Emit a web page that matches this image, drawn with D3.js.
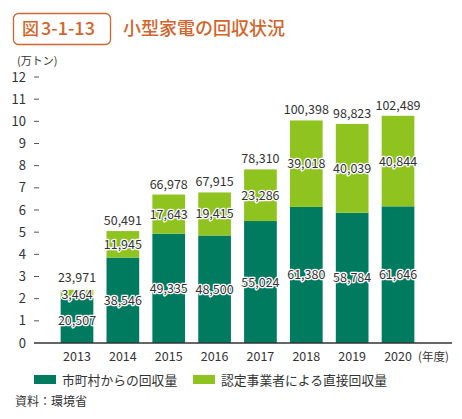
<!DOCTYPE html>
<html><head><meta charset="utf-8">
<script src="https://cdn.jsdelivr.net/npm/d3@7"></script>
<style>
body{margin:0;background:#fff;}
text{font-family:"Noto Sans CJK JP","Noto Sans",sans-serif;}
</style></head><body>
<svg id="c" width="462" height="419"></svg>
<script>
const years = ["2013","2014","2015","2016","2017","2018","2019","2020"];
const municipal = [20507,38546,49335,48500,55024,61380,58784,61646];
const direct = [3464,11945,17643,19415,23286,39018,40039,40844];
const totals = [23971,50491,66978,67915,78310,100398,98823,102489];
const yTicks = [0,1,2,3,4,5,6,7,8,9,10,11,12];
const seriesNames = ["市町村からの回収量","認定事業者による直接回収量"];
const colors = ["#007b5f","#8fc31f"];
const orange = "#d3642b";

const svg = d3.select("#c");
const fmt = d3.format(",");

// title
svg.append("rect").attr("x",13.5).attr("y",13.5).attr("width",97).attr("height",31).attr("rx",5)
  .attr("fill","none").attr("stroke",orange).attr("stroke-width",1.3);
svg.append("text").attr("x",22).attr("y",35).attr("fill",orange)
  .attr("font-size",17).attr("font-weight",500).text("図");
svg.append("text").attr("x",41).attr("y",35).attr("fill",orange)
  .attr("font-size",18).attr("font-weight",500).text("3-1-13");
svg.append("text").attr("x",123).attr("y",35).attr("fill",orange)
  .attr("font-size",18).attr("font-weight",500).text("小型家電の回収状況");

const x = d3.scaleBand().domain(years).range([54.07,420.95]).paddingInner(0.287).paddingOuter(0.1435);
const y = d3.scaleLinear().domain([0,12]).range([343,77]);

// unit
svg.append("text").attr("x",17).attr("y",65).attr("font-size",11).attr("fill","#333").text("(万トン)");

// y ticks
const yg = svg.append("g");
yTicks.forEach(t=>{
  yg.append("text").attr("x",26).attr("y",y(t)+4.5).attr("text-anchor","end").attr("font-size",13).attr("fill","#333").text(t);
  if(t>0) yg.append("line").attr("x1",34).attr("x2",39).attr("y1",y(t)).attr("y2",y(t)).attr("stroke","#555").attr("stroke-width",1);
});

// bars
const g = svg.append("g");
years.forEach((yr,i)=>{
  const m = municipal[i]/10000, d = direct[i]/10000;
  g.append("rect").attr("x",x(yr)).attr("width",x.bandwidth()).attr("y",y(m)).attr("height",y(0)-y(m)).attr("fill",colors[0]);
  g.append("rect").attr("x",x(yr)).attr("width",x.bandwidth()).attr("y",y(m+d)).attr("height",y(m)-y(m+d)).attr("fill",colors[1]);
});

// axis line
svg.append("line").attr("x1",34).attr("x2",452).attr("y1",343).attr("y2",343).attr("stroke","#333").attr("stroke-width",1.5);

// labels
const lab = svg.append("g");
function label(xx,yy,txt){
  lab.append("text").attr("x",xx).attr("y",yy).attr("text-anchor","middle").attr("font-size",12.5)
    .attr("fill","#333").attr("stroke","#fff").attr("stroke-width",2.5).attr("stroke-linejoin","round")
    .attr("paint-order","stroke").text(txt);
}
years.forEach((yr,i)=>{
  const cx = x(yr)+x.bandwidth()/2;
  const m = municipal[i]/10000, d = direct[i]/10000;
  label(cx, y(m/2)+4.5, fmt(municipal[i]));
  label(cx, y(m+d/2)+(i===0?5.5:4.5), fmt(direct[i]));
  label(cx, y(totals[i]/10000)-(i===0?8:6), fmt(totals[i]));
});

// x labels
years.forEach(yr=>{
  svg.append("text").attr("x",x(yr)+x.bandwidth()/2).attr("y",361).attr("text-anchor","middle")
    .attr("font-size",12.5).attr("fill","#333").text(yr);
});
svg.append("text").attr("x",418).attr("y",361).attr("font-size",11.5).attr("fill","#333").text("(年度)");

// legend
const lx = [34,193];
seriesNames.forEach((n,i)=>{
  svg.append("rect").attr("x",lx[i]).attr("y",375).attr("width",22).attr("height",9).attr("fill",colors[i]);
  svg.append("text").attr("x",lx[i]+28).attr("y",384.5).attr("font-size",12.8).attr("fill","#333").text(n);
});

svg.append("text").attr("x",15).attr("y",406).attr("font-size",12).attr("fill","#333").text("資料：環境省");
</script></body></html>
